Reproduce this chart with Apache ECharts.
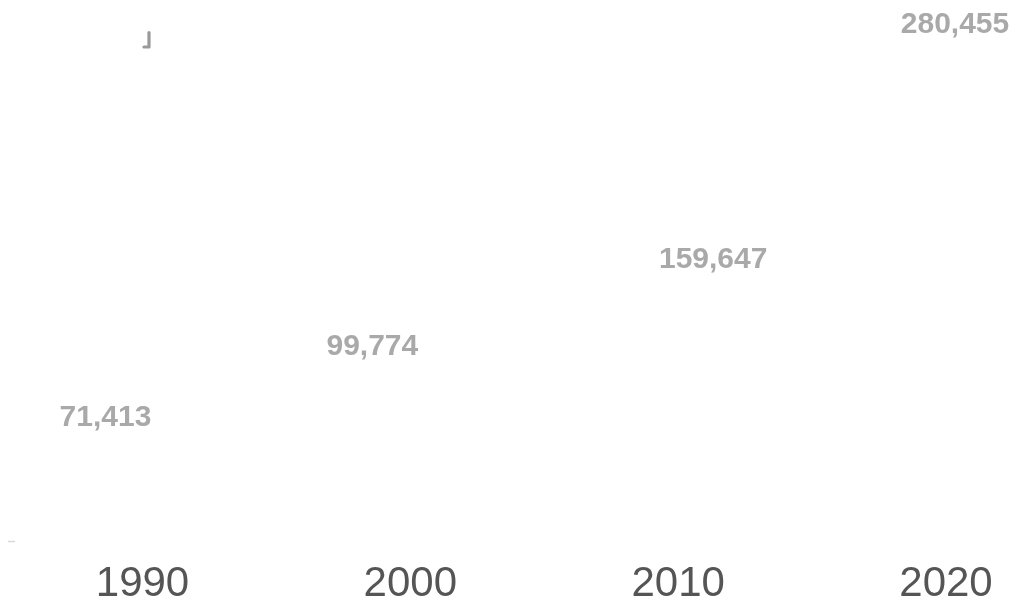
<!DOCTYPE html>
<html>
<head>
<meta charset="utf-8">
<title>1990–2020</title>
<script src="https://cdn.jsdelivr.net/npm/echarts@6/dist/echarts.min.js"></script>
<style>
  html, body { margin: 0; padding: 0; background: #ffffff; }
  #chart { width: 1018px; height: 599px; }
</style>
</head>
<body>
<div id="chart"></div>
<script>
// Decade years along the bottom axis
const years = ['1990', '2000', '2010', '2020'];
// Totals per decade
const totals = [71413, 99774, 159647, 280455];

// Small nudges that keep each value label clear of its neighbours
const labelNudges = [[-37, 8], [-38, -11], [35, 12], [9, 0]];

const chart = echarts.init(document.getElementById('chart'), null, { renderer: 'canvas' });

const option = {
  backgroundColor: '#ffffff',
  animation: false,
  grid: {
    left: 142.5, right: 72, top: 0, bottom: 57.3,
    containLabel: false,
    outerBoundsMode: 'none'
  },
  xAxis: {
    type: 'category',
    data: years,
    boundaryGap: false,
    axisLine: { show: false },
    axisTick: { show: false },
    splitLine: { show: false },
    axisLabel: {
      margin: 22,
      fontSize: 42,
      color: '#555555',
      fontFamily: '"Liberation Sans", Arial, sans-serif'
    }
  },
  yAxis: {
    type: 'value',
    min: 0,
    max: 294000,
    show: false
  },
  series: [{
    type: 'scatter',
    symbolSize: 1,
    itemStyle: { color: 'rgba(0,0,0,0)' },
    data: totals.map((v, i) => ({
      value: v,
      label: { offset: labelNudges[i] }
    })),
    label: {
      show: true,
      position: 'inside',
      formatter: p => p.value.toLocaleString('en-US'),
      fontSize: 30,
      fontWeight: 'bold',
      color: '#939393',
      fontFamily: '"Liberation Sans", Arial, sans-serif'
    }
  }],
  graphic: [
    {
      type: 'line',
      shape: { x1: 8, y1: 541.5, x2: 15, y2: 541.5 },
      style: { stroke: '#d9d9d9', lineWidth: 1.5 }
    },
    {
      type: 'polyline',
      shape: { points: [[144, 47], [149, 47], [149, 32.5]] },
      style: { stroke: '#999999', lineWidth: 3.2, fill: null, lineCap: 'round', lineJoin: 'round' }
    }
  ]
};

chart.setOption(option);
</script>
</body>
</html>
